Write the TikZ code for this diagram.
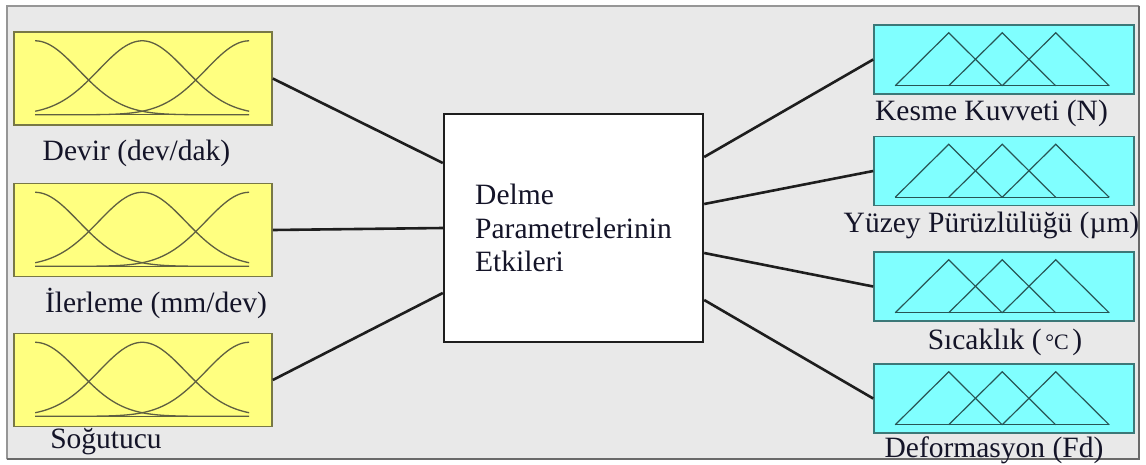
\documentclass[tikz,border=0pt]{standalone}
\usepackage{fontspec}
\setmainfont{Liberation Serif}
\newfontfamily\tnr{Liberation Serif}
\usetikzlibrary{calc}
\definecolor{bg}{RGB}{233,233,233}
\definecolor{frameL}{RGB}{150,150,150}
\definecolor{frameD}{RGB}{105,105,105}
\definecolor{yfill}{RGB}{255,255,128}
\definecolor{ydraw}{RGB}{120,120,70}
\definecolor{ycurve}{RGB}{95,95,65}
\definecolor{cfill}{RGB}{128,255,255}
\definecolor{cdraw}{RGB}{60,120,120}
\definecolor{ccurve}{RGB}{40,85,85}
\definecolor{conn}{RGB}{30,30,30}
\definecolor{txt}{RGB}{20,20,40}
\tikzset{
  ybox/.style={draw=ydraw, fill=yfill, line width=1.6pt, minimum width=258pt, minimum height=93pt, inner sep=0pt},
  cybox/.style={draw=cdraw, fill=cfill, line width=1.6pt, minimum width=260pt, minimum height=69pt, inner sep=0pt},
  cbox/.style={draw=conn, fill=white, line width=2.4pt, minimum width=259pt, minimum height=228pt, inner sep=0pt, align=left, text=txt, font=\tnr\fontsize{29.5}{33.5}\selectfont},
  lbl/.style={inner sep=0pt, text=txt, font=\tnr\fontsize{29.5}{35}\selectfont},
  wire/.style={draw=conn, line width=2.6pt},
  bell/.style={draw=ycurve, line width=1.3pt},
  tri/.style={draw=ccurve, line width=1.2pt, line join=miter}
}
\newcommand{\drawbells}[1]{%
  \begin{scope}[shift={($(#1.south west)+(22,-11)$)}]
    \draw[bell] (0,0) -- (214,0);
    \draw[bell] plot[domain=0:2, samples=70, smooth] ({\x*107}, {-74*exp(-(\x)*(\x)/0.33)});
    \draw[bell] plot[domain=0:2, samples=70, smooth] ({\x*107}, {-74*exp(-(\x-1)*(\x-1)/0.33)});
    \draw[bell] plot[domain=0:2, samples=70, smooth] ({\x*107}, {-74*exp(-(\x-2)*(\x-2)/0.33)});
  \end{scope}}
\newcommand{\drawtris}[1]{%
  \begin{scope}[shift={($(#1.south west)+(22,-9)$)}]
    \draw[tri] (0,0) -- (214,0);
    \draw[tri] (0,0) -- (53.5,-53) -- (107,0);
    \draw[tri] (53.5,0) -- (107,-53) -- (160.5,0);
    \draw[tri] (107,0) -- (160.5,-53) -- (214,0);
  \end{scope}}
\begin{document}
\begin{tikzpicture}[x=1pt,y=-1pt]
\useasboundingbox (0,0) rectangle (1146,464);
\fill[white] (0,0) rectangle (1146,464);
\fill[bg] (6,5) rectangle (1140,460);
\draw[frameL, line width=2pt] (7,459) -- (7,6) -- (1139,6);
\draw[frameD, line width=2.5pt] (1139,6) -- (1139,459) -- (7,459);

% left input boxes
\node[ybox] (L1) at (143,78.5) {};
\node[ybox] (L2) at (143,230) {};
\node[ybox] (L3) at (143,380) {};
\drawbells{L1}
\drawbells{L2}
\drawbells{L3}
\node[lbl] (tL1) at (136.5,153) {Devir (dev/dak)};
\node[lbl] (tL2) at (156,303) {İlerleme (mm/dev)};
\node[lbl] (tL3) at (106,442) {Soğutucu};

% centre
\node[cbox] (C) at (573.5,228) {Delme\\Parametrelerinin\\Etkileri};

% right output boxes
\node[cybox] (R1) at (1004,59.5) {};
\node[cybox] (R2) at (1004,171) {};
\node[cybox] (R3) at (1004,286.5) {};
\node[cybox] (R4) at (1004,398.5) {};
\drawtris{R1}
\drawtris{R2}
\drawtris{R3}
\drawtris{R4}
\node[lbl] (tR1) at (991.5,113) {Kesme Kuvveti (N)};
\node[lbl] (tR2) at (991.5,225) {Yüzey Pürüzlülüğü (µm)};
\node[lbl] (tR3) at (1005,342) {Sıcaklık ({\fontsize{22}{22}\selectfont\,°C\,})};
\node[lbl] (tR4) at (994,450) {Deformasyon (Fd)};

% connectors
\draw[wire] (L1.east) -- ($(C.west)+(0,-65)$);
\draw[wire] (L2.east) -- ($(C.west)+(0,0)$);
\draw[wire] (L3.east) -- ($(C.west)+(0,65)$);
\draw[wire] ($(C.east)+(0,-71)$) -- (R1.west);
\draw[wire] ($(C.east)+(0,-24)$) -- (R2.west);
\draw[wire] ($(C.east)+(0,25)$) -- (R3.west);
\draw[wire] ($(C.east)+(0,72)$) -- (R4.west);
\end{tikzpicture}
\end{document}
